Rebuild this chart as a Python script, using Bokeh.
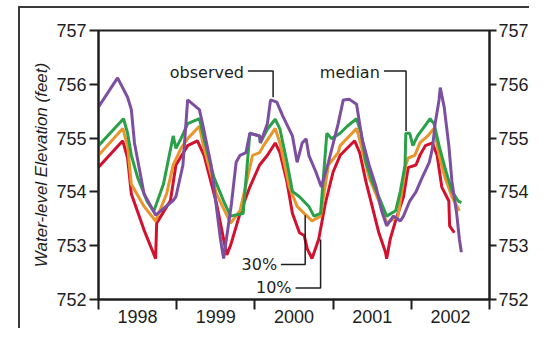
from bokeh.plotting import figure
from bokeh.models import Range1d, LinearAxis, FixedTicker, Spacer
from bokeh.layouts import row, column
from bokeh.core.properties import value
from bokeh.embed import file_html
from bokeh.resources import INLINE

# ---- data (decimal year, feet) ----
obs_t = [1998.00, 1998.244, 1998.372, 1998.42, 1998.46, 1998.583, 1998.73, 1998.955, 1998.99,
         1999.08, 1999.14, 1999.29, 1999.33, 1999.44, 1999.56, 1999.60, 1999.70, 1999.76,
         1999.81, 1999.886, 1999.935, 2000.06, 2000.07, 2000.16, 2000.20, 2000.28, 2000.36,
         2000.48, 2000.54, 2000.605, 2000.655, 2000.69, 2000.78, 2000.85, 2000.94, 2001.065,
         2001.13, 2001.21, 2001.30, 2001.37, 2001.46, 2001.55, 2001.62, 2001.685, 2001.77,
         2001.86, 2001.90, 2001.98, 2002.06, 2002.14, 2002.23, 2002.27, 2002.305, 2002.355,
         2002.37, 2002.42, 2002.48, 2002.52, 2002.58, 2002.615, 2002.64]
obs_v = [755.58, 756.12, 755.76, 755.53, 754.91, 753.96, 753.57, 753.84, 753.91,
         754.50, 755.71, 755.53, 755.27, 754.50, 753.12, 752.76, 753.78, 754.55,
         754.68, 754.73, 755.09, 755.04, 754.91, 755.27, 755.71, 755.67, 755.40,
         755.04, 754.55, 754.91, 754.99, 754.68, 754.37, 754.09, 754.55, 755.27,
         755.71, 755.72, 755.63, 754.99, 754.50, 754.09, 753.65, 753.37, 753.55,
         753.46, 753.55, 753.83, 754.00, 754.27, 754.55, 754.81, 755.27, 755.71,
         755.94, 755.58, 754.86, 754.19, 753.60, 753.12, 752.88]

med_t = [1998.00, 1998.32, 1998.372, 1998.42, 1998.50, 1998.62, 1998.707, 1998.83, 1998.955,
         1998.99, 1999.055, 1999.14, 1999.29, 1999.35, 1999.476, 1999.60, 1999.69, 1999.85,
         1999.935, 2000.06, 2000.07, 2000.16, 2000.26, 2000.32, 2000.41, 2000.48, 2000.57,
         2000.69, 2000.755, 2000.84, 2000.92, 2000.98, 2001.09, 2001.18, 2001.30, 2001.36,
         2001.42, 2001.50, 2001.585, 2001.685, 2001.80, 2001.86, 2001.92, 2001.93, 2001.98,
         2002.02, 2002.08, 2002.17, 2002.24, 2002.29, 2002.355, 2002.43, 2002.52, 2002.60,
         2002.64]
med_v = [754.86, 755.36, 755.09, 754.68, 754.27, 753.83, 753.64, 754.14, 755.04,
         754.81, 754.99, 755.27, 755.36, 754.99, 754.27, 753.83, 753.55, 753.60,
         755.09, 755.04, 754.91, 755.17, 755.35, 755.17, 754.55, 754.01, 753.91,
         753.73, 753.55, 753.60, 755.09, 754.99, 755.09, 755.22, 755.36, 755.09,
         754.55, 754.19, 753.91, 753.55, 753.65, 754.01, 754.50, 755.09, 755.09,
         754.86, 755.04, 755.22, 755.36, 755.27, 754.86, 754.45, 754.01, 753.83,
         753.80]

p30_t = [1998.00, 1998.31, 1998.372, 1998.42, 1998.583, 1998.73, 1998.87, 1998.955, 1999.055,
         1999.14, 1999.29, 1999.35, 1999.51, 1999.69, 1999.81, 1999.97, 2000.06, 2000.11,
         2000.26, 2000.32, 2000.44, 2000.54, 2000.63, 2000.73, 2000.84, 2000.94, 2001.065,
         2001.09, 2001.30, 2001.36, 2001.46, 2001.585, 2001.685, 2001.83, 2001.93, 2001.96,
         2002.045, 2002.11, 2002.21, 2002.29, 2002.355, 2002.43, 2002.52, 2002.615]
p30_v = [754.68, 755.18, 754.86, 754.14, 753.73, 753.46, 753.96, 754.50, 754.81,
         754.99, 755.22, 754.81, 753.96, 753.42, 753.65, 754.68, 754.73, 754.86,
         755.18, 754.91, 754.09, 753.73, 753.60, 753.46, 753.55, 754.50, 754.73,
         754.86, 755.18, 754.86, 754.27, 753.83, 753.42, 753.55, 754.50, 754.63,
         754.68, 754.91, 755.04, 755.18, 754.68, 754.27, 753.91, 753.65]

p10_t = [1998.00, 1998.31, 1998.372, 1998.42, 1998.583, 1998.73, 1998.744, 1998.92, 1998.99,
         1999.14, 1999.265, 1999.35, 1999.51, 1999.64, 1999.69, 1999.81, 1999.935, 2000.06,
         2000.16, 2000.26, 2000.32, 2000.41, 2000.48, 2000.57, 2000.63, 2000.67, 2000.73,
         2000.816, 2000.90, 2001.00, 2001.09, 2001.275, 2001.34, 2001.42, 2001.50, 2001.585,
         2001.67, 2001.685, 2001.73, 2001.80, 2001.90, 2001.96, 2002.06, 2002.11, 2002.18,
         2002.27, 2002.33, 2002.39, 2002.48, 2002.49, 2002.55]
p10_v = [754.46, 754.95, 754.63, 753.96, 753.29, 752.76, 753.42, 753.84, 754.50,
         754.86, 754.95, 754.68, 753.78, 752.83, 753.01, 753.60, 754.09, 754.50,
         754.68, 754.91, 754.73, 754.19, 753.60, 753.24, 753.19, 752.94, 752.76,
         753.12, 753.78, 754.37, 754.68, 754.95, 754.73, 754.19, 753.73, 753.24,
         752.88, 752.76, 753.12, 753.47, 753.91, 754.45, 754.50, 754.68, 754.86,
         754.91, 754.68, 754.09, 753.83, 753.37, 753.24]

year_labels = ["1998", "1999", "2000", "2001", "2002"]
year_bounds = [1998, 1999, 2000, 2001, 2002, 2003]
y_ticks = [752, 753, 754, 755, 756, 757]

# annotation labels and leader lines
ann_text = ["observed", "median", "30%", "10%"]
ann_x = [1999.886, 2001.623, 2000.31, 2000.494]
ann_y = [756.227, 756.227, 752.65, 752.216]
lead_xs = [[1999.91, 2000.233, 2000.233], [2001.65, 2001.933, 2001.933],
           [2000.333, 2000.643, 2000.643], [2000.519, 2000.84, 2000.84]]
lead_ys = [[756.245, 756.245, 755.76], [756.245, 756.245, 755.13],
           [752.65, 752.65, 753.565], [752.216, 752.216, 753.115]]

C_OBS = "#7d4fa1"
C_MED = "#2aa048"
C_30 = "#e8952c"
C_10 = "#d3102e"
INK = "#1e1e1e"

p = figure(width=511, height=322, output_backend="svg", toolbar_location=None,
           x_range=Range1d(1998, 2003), y_range=Range1d(752, 757),
           min_border_left=78, min_border_right=39, min_border_top=22, min_border_bottom=31)
# outer frame of the figure panel (top and left edges), drawn without affecting layout
p.styles = {"box-shadow": "-2px -2px 0px 0px #3a3a3a", "background-color": "white"}
p.grid.visible = False
p.background_fill_color = "white"
p.border_fill_color = "white"
p.outline_line_color = INK
p.outline_line_width = 2
p.outline_line_alpha = 1

# bottom axis: labels at mid-year, ticks at year boundaries
xa = p.xaxis[0]
xa.ticker = FixedTicker(ticks=[y + 0.5 for y in year_bounds[:-1]], minor_ticks=year_bounds)
xa.major_label_overrides = {y + 0.5: lab for y, lab in zip(year_bounds[:-1], year_labels)}
xa.major_tick_line_color = None
xa.major_tick_out = 0
xa.major_tick_in = 0
xa.minor_tick_line_color = INK
xa.minor_tick_line_width = 2
xa.minor_tick_out = 10
xa.minor_tick_in = 0
xa.major_label_standoff = 0
xa.axis_line_color = INK
xa.axis_line_width = 2
xa.major_label_text_font = "Liberation Sans"
xa.major_label_text_font_size = "18px"
xa.major_label_text_color = INK

def style_y(ax, tick_out, standoff):
    ax.ticker = FixedTicker(ticks=y_ticks, minor_ticks=[])
    ax.major_tick_out = tick_out
    ax.major_tick_in = 0
    ax.major_tick_line_width = 2
    ax.major_tick_line_color = INK
    ax.minor_tick_line_color = None
    ax.axis_line_color = INK
    ax.axis_line_width = 2
    ax.major_label_standoff = standoff
    ax.major_label_text_font = "Liberation Sans"
    ax.major_label_text_font_size = "18px"
    ax.major_label_text_color = INK

ya = p.yaxis[0]
style_y(ya, 9, 3)
ya.axis_label = "Water-level Elevation (feet)"
ya.axis_label_text_font = "Liberation Sans"
ya.axis_label_text_font_style = "italic"
ya.axis_label_text_font_size = "17px"
ya.axis_label_text_color = INK
ya.axis_label_standoff = 2

ra = LinearAxis()
style_y(ra, 7, 2)
p.add_layout(ra, "right")

lw = 3
p.line(p10_t, p10_v, line_color=C_10, line_width=lw)
p.line(p30_t, p30_v, line_color=C_30, line_width=lw)
p.line(med_t, med_v, line_color=C_MED, line_width=lw)
p.line(obs_t, obs_v, line_color=C_OBS, line_width=lw)

p.multi_line(lead_xs, lead_ys, line_color=INK, line_width=1.5)
p.text(ann_x, ann_y, text=ann_text, text_align="right", text_baseline="middle",
       text_font=value("DejaVu Sans"), text_font_size=value("16px"), text_color=INK,
       x_offset=-2)

layout = column(Spacer(width=531, height=8), row(Spacer(width=20, height=322), p))
open("out.html", "w").write(file_html(layout, INLINE))
